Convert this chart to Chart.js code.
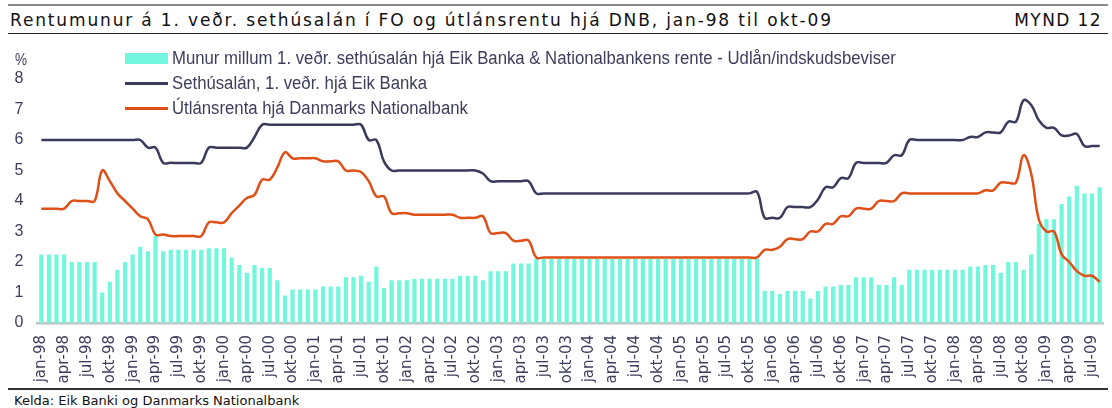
<!DOCTYPE html>
<html>
<head>
<meta charset="utf-8">
<script src="https://cdn.jsdelivr.net/npm/chart.js@4.4.1/dist/chart.umd.min.js"></script>
<style>
  html, body { margin:0; padding:0; background:#fff; }
  body { width:1112px; height:408px; position:relative; overflow:hidden; }
  .rule { position:absolute; left:8px; width:1100px; }
  #topRule { top:4px; height:2px; background:#8a8a8a; }
  #titleRule { top:33px; height:1px; background:#222; }
  #footRule { top:388px; height:2px; background:#333; }
  #title { position:absolute; left:10px; top:10px; font:17px 'DejaVu Sans', sans-serif; letter-spacing:1.85px; color:#111; white-space:nowrap; }
  #mynd { position:absolute; right:10px; top:10px; font:17px 'DejaVu Sans', sans-serif; letter-spacing:1.4px; color:#111; }
  #unit { position:absolute; left:15px; top:51px; font:16px 'Liberation Sans', sans-serif; color:#3d3d5c; transform:scaleX(0.85); transform-origin:left; }
  #legend { position:absolute; left:125px; top:46px; font:18px 'Liberation Sans', sans-serif; color:#3d3d5c; }
  .item { display:flex; align-items:center; height:25px; white-space:nowrap; }
  .sw { width:43px; margin-right:4px; flex:none; }
  .tx { display:inline-block; transform:scaleX(0.93); transform-origin:left; }
  #source { position:absolute; left:14px; top:393px; font:13px 'DejaVu Sans', sans-serif; color:#111; }
  #wrap { position:absolute; left:0; top:40px; width:1112px; height:348px; }
</style>
</head>
<body>
<div class="rule" id="topRule"></div>
<div id="title">Rentumunur á 1. veðr. sethúsalán í FO og útlánsrentu hjá DNB, jan-98 til okt-09</div>
<div id="mynd">MYND 12</div>
<div class="rule" id="titleRule"></div>
<div id="wrap"><canvas id="c" width="1112" height="348"></canvas></div>
<div id="unit">%</div>
<div id="legend"></div>
<div class="rule" id="footRule"></div>
<div id="source">Kelda: Eik Banki og Danmarks Nationalbank</div>
<script>
const monthNames = ['jan','feb','mar','apr','mai','jun','jul','aug','sep','okt','nov','des'];
const years = ['98','99','00','01','02','03','04','05','06','07','08','09'];

// Sethúsalán, 1. veðr. hjá Eik Banka (monthly, jan-98 .. aug-09)
const eikRate = [
  6.0,6.0,6.0,6.0,6.0,6.0,6.0,6.0,6.0,6.0,6.0,6.0,
  6.0,6.0,5.75,5.75,5.25,5.25,5.25,5.25,5.25,5.25,5.75,5.75,
  5.75,5.75,5.75,5.75,6.1,6.5,6.5,6.5,6.5,6.5,6.5,6.5,
  6.5,6.5,6.5,6.5,6.5,6.5,6.5,6.0,6.0,5.3,5.0,5.0,
  5.0,5.0,5.0,5.0,5.0,5.0,5.0,5.0,5.0,5.0,4.9,4.65,
  4.65,4.65,4.65,4.65,4.65,4.25,4.25,4.25,4.25,4.25,4.25,4.25,
  4.25,4.25,4.25,4.25,4.25,4.25,4.25,4.25,4.25,4.25,4.25,4.25,
  4.25,4.25,4.25,4.25,4.25,4.25,4.25,4.25,4.25,4.25,4.3,3.45,
  3.45,3.45,3.8,3.8,3.8,3.8,4.05,4.45,4.45,4.75,4.75,5.25,
  5.25,5.25,5.25,5.25,5.5,5.5,6.0,6.0,6.0,6.0,6.0,6.0,
  6.0,6.0,6.1,6.1,6.25,6.25,6.25,6.6,6.6,7.3,7.15,6.65,
  6.4,6.4,6.15,6.15,6.2,5.8,5.8,5.8
];

// Útlánsrenta hjá Danmarks Nationalbank
const dnbRate = [
  3.75,3.75,3.75,3.75,4.0,4.0,4.0,4.0,5.0,4.65,4.25,4.0,
  3.75,3.5,3.4,2.9,2.9,2.85,2.85,2.85,2.85,2.85,3.3,3.3,
  3.3,3.6,3.85,4.1,4.2,4.7,4.7,5.1,5.6,5.4,5.4,5.4,
  5.4,5.3,5.3,5.3,5.0,5.0,4.95,4.65,4.15,4.15,3.6,3.6,
  3.6,3.55,3.55,3.55,3.55,3.55,3.55,3.45,3.45,3.45,3.5,2.95,
  2.95,2.95,2.7,2.7,2.7,2.15,2.15,2.15,2.15,2.15,2.15,2.15,
  2.15,2.15,2.15,2.15,2.15,2.15,2.15,2.15,2.15,2.15,2.15,2.15,
  2.15,2.15,2.15,2.15,2.15,2.15,2.15,2.15,2.15,2.15,2.15,2.4,
  2.4,2.5,2.75,2.75,2.75,3.0,3.0,3.25,3.25,3.5,3.5,3.75,
  3.75,3.75,4.0,4.0,4.0,4.25,4.25,4.25,4.25,4.25,4.25,4.25,
  4.25,4.25,4.25,4.25,4.35,4.35,4.6,4.6,4.6,5.5,4.9,3.4,
  3.0,3.0,2.25,2.0,1.7,1.55,1.55,1.35
];

// Munur (bars)
const spread = [
  2.25,2.25,2.25,2.25,2.0,2.0,2.0,2.0,1.0,1.35,1.75,2.0,
  2.25,2.5,2.35,2.85,2.35,2.4,2.4,2.4,2.4,2.4,2.45,2.45,
  2.45,2.15,1.9,1.65,1.9,1.8,1.8,1.4,0.9,1.1,1.1,1.1,
  1.1,1.2,1.2,1.2,1.5,1.5,1.55,1.35,1.85,1.15,1.4,1.4,
  1.4,1.45,1.45,1.45,1.45,1.45,1.45,1.55,1.55,1.55,1.4,1.7,
  1.7,1.7,1.95,1.95,1.95,2.1,2.1,2.1,2.1,2.1,2.1,2.1,
  2.1,2.1,2.1,2.1,2.1,2.1,2.1,2.1,2.1,2.1,2.1,2.1,
  2.1,2.1,2.1,2.1,2.1,2.1,2.1,2.1,2.1,2.1,2.1,1.05,
  1.05,0.95,1.05,1.05,1.05,0.8,1.05,1.2,1.2,1.25,1.25,1.5,
  1.5,1.5,1.25,1.25,1.5,1.25,1.75,1.75,1.75,1.75,1.75,1.75,
  1.75,1.75,1.85,1.85,1.9,1.9,1.65,2.0,2.0,1.75,2.25,3.25,
  3.4,3.4,3.9,4.15,4.5,4.25,4.25,4.45
];

const labels = [];
years.forEach(y => monthNames.forEach(m => { if (labels.length < spread.length) labels.push(m + '-' + y); }));

const colBar = '#72f6dc', colEik = '#3a3a5c', colDnb = '#de5018';
const textCol = '#3d3d5c';

const datasets = [
  { type:'bar', label:'Munur millum 1. veðr. sethúsalán hjá Eik Banka & Nationalbankens rente - Udlån/indskudsbeviser',
    data: spread, backgroundColor: colBar, barPercentage:0.55, categoryPercentage:1, order:3 },
  { type:'line', label:'Sethúsalán, 1. veðr. hjá Eik Banka', data: eikRate, borderColor: colEik,
    borderWidth:2.5, pointRadius:0, tension:0.4, order:1 },
  { type:'line', label:'Útlánsrenta hjá Danmarks Nationalbank', data: dnbRate, borderColor: colDnb,
    borderWidth:2.5, pointRadius:0, tension:0.4, order:2 }
];

new Chart(document.getElementById('c'), {
  data: { labels, datasets },
  options: {
    responsive:false, animation:false, devicePixelRatio:1,
    layout: { padding: { top:39, right:8.5, left:0, bottom:0 } },
    plugins: { legend:{ display:false }, tooltip:{ enabled:false } },
    scales: {
      x: {
        grid: { display:false, drawTicks:false },
        border: { display:true, color:'#c4c4c4', width:2.5 },
        afterFit: s => { s.height = 65; s.paddingLeft = 0; s.paddingRight = 0; },
        ticks: {
          autoSkip:false, maxRotation:90, minRotation:90, padding:12,
          color: textCol, font: { family:'DejaVu Sans', size:15 },
          callback: (v, i) => i % 3 === 0 ? labels[i] : ''
        }
      },
      y: {
        min:0, max:8,
        grid: { display:false, drawTicks:false },
        border: { display:false },
        afterFit: s => { s.width = 37.5; },
        ticks: { stepSize:1, padding:14, color: textCol, font: { family:'Liberation Sans', size:16 } }
      }
    }
  }
});

// legend overlay
const leg = document.getElementById('legend');
datasets.forEach(d => {
  const row = document.createElement('div');
  row.className = 'item';
  const sw = document.createElement('span');
  sw.className = 'sw';
  if (d.type === 'bar') { sw.style.height = '11px'; sw.style.background = d.backgroundColor; }
  else { sw.style.height = '2.5px'; sw.style.background = d.borderColor; }
  const tx = document.createElement('span');
  tx.className = 'tx';
  tx.textContent = d.label;
  row.appendChild(sw); row.appendChild(tx);
  leg.appendChild(row);
});
</script>
</body>
</html>
